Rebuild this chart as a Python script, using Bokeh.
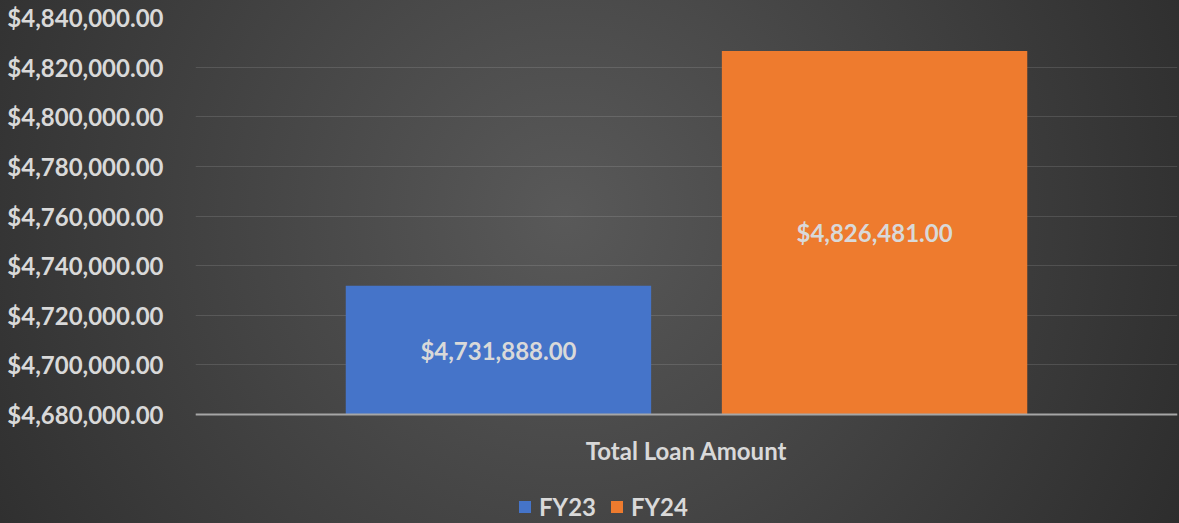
from bokeh.plotting import figure
from bokeh.models import (ColumnDataSource, FactorRange, Range1d, NumeralTickFormatter,
                          Legend, LegendItem, FixedTicker)
from bokeh.transform import dodge
from bokeh.core.properties import value
from bokeh.embed import file_html
from bokeh.resources import INLINE

# ---- data ----
categories = ["Total Loan Amount"]
series = ["FY23", "FY24"]
fy23 = [4731888.00]
fy24 = [4826481.00]
y_start = 4680000
y_end = 4840000
y_ticks = [4680000, 4700000, 4720000, 4740000, 4760000, 4780000, 4800000, 4820000, 4840000]

# ---- layout / style ----
W, H = 1179, 523
TOP, AXIS_Y, LEFT = 17, 414, 195          # pixel rows / cols of the frame
FONT = "Lato"
FS = "24px"
TXT = "#d9d9d9"
BLUE = "#4574c9"
ORANGE = "#ee7b2e"
OFF = 0.1915
BW = 0.311

# frame extends down to the canvas bottom; the category axis sits at y_start
y_lo = y_start - (H - AXIS_Y) / (AXIS_Y - TOP) * (y_end - y_start)

src = ColumnDataSource(dict(
    cat=categories,
    FY23=fy23,
    FY24=fy24,
    m23=[(v + y_start) / 2 for v in fy23],
    m24=[(v + y_start) / 2 for v in fy24],
    l23=["${:,.2f}".format(v) for v in fy23],
    l24=["${:,.2f}".format(v) for v in fy24],
))

p = figure(x_range=FactorRange(*categories), y_range=Range1d(y_lo, y_end),
           width=W, height=H, output_backend="svg", toolbar_location=None,
           min_border_left=LEFT, min_border_right=2, min_border_top=TOP, min_border_bottom=0)
p.background_fill_color = None
p.border_fill_color = None
p.outline_line_color = None
p.styles = {"background": "radial-gradient(circle 720px at 565px 215px, #595959 0%, #2b2b2b 100%)"}

r1 = p.vbar(x=dodge("cat", -OFF, range=p.x_range), top="FY23", bottom=y_start, width=BW,
            source=src, fill_color=BLUE, line_color=None)
r2 = p.vbar(x=dodge("cat", OFF, range=p.x_range), top="FY24", bottom=y_start, width=BW,
            source=src, fill_color=ORANGE, line_color=None)

for col_m, col_l, off in (("m23", "l23", -OFF), ("m24", "l24", OFF)):
    p.text(x=dodge("cat", off, range=p.x_range), y=col_m, text=col_l, source=src,
           text_font=value(FONT), text_font_style="bold", text_font_size=FS,
           text_align="center", text_baseline="middle", text_color=TXT)

# y axis
p.yaxis.ticker = FixedTicker(ticks=y_ticks)
p.yaxis.formatter = NumeralTickFormatter(format="$0,0.00")
p.yaxis.axis_line_color = None
p.yaxis.major_tick_line_color = None
p.yaxis.minor_tick_line_color = None
p.yaxis.major_tick_out = 0
p.yaxis.major_label_standoff = 32
p.yaxis.major_label_text_font = FONT
p.yaxis.major_label_text_font_style = "bold"
p.yaxis.major_label_text_font_size = FS
p.yaxis.major_label_text_color = TXT

# x axis, fixed on the value-axis baseline
p.xaxis.fixed_location = y_start
p.xaxis.axis_line_color = "#a6a6a6"
p.xaxis.axis_line_width = 2
p.xaxis.major_tick_line_color = None
p.xaxis.minor_tick_line_color = None
p.xaxis.major_tick_out = 0
p.xaxis.major_label_standoff = 21
p.xaxis.major_label_text_font = FONT
p.xaxis.major_label_text_font_style = "bold"
p.xaxis.major_label_text_font_size = FS
p.xaxis.major_label_text_color = TXT

# grid
p.xgrid.grid_line_color = None
p.ygrid.grid_line_color = "white"
p.ygrid.grid_line_alpha = 0.12
p.ygrid.grid_line_width = 1

legend = Legend(items=[LegendItem(label=series[0], renderers=[r1]),
                       LegendItem(label=series[1], renderers=[r2])],
                orientation="horizontal", location=(517 - LEFT, 2),
                glyph_width=15, glyph_height=15, label_standoff=7, spacing=13,
                padding=0, margin=0, border_line_color=None, background_fill_alpha=0,
                label_text_font=FONT, label_text_font_style="bold",
                label_text_font_size=FS, label_text_color=TXT)
p.add_layout(legend)

open("out.html", "w").write(file_html(p, INLINE))
